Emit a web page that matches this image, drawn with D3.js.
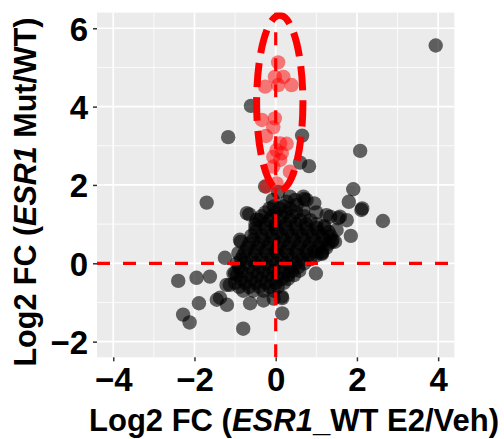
<!DOCTYPE html>
<html>
<head>
<meta charset="utf-8">
<script src="https://cdn.jsdelivr.net/npm/d3@7"></script>
<style>
  body { margin: 0; background: #fff; }
  text { font-family: "Liberation Sans", Arial, sans-serif; font-weight: bold; }
</style>
</head>
<body>
<svg></svg>
<script>
const WIDTH = 504;
const HEIGHT = 439;

const xTicks = [-4, -2, 0, 2, 4];
const yTicks = [-2, 0, 2, 4, 6];
const xMinor = [-3, -1, 1, 3];
const yMinor = [-1, 1, 3, 5];

// genes outside the main cloud
const outlierPts = [
  [3.94, 5.56], [-0.61, 4.02], [-1.17, 3.22], [0.65, 3.26], [2.08, 2.87],
  [0.60, 2.57], [0.82, 2.48], [-1.70, 1.55], [1.91, 1.89], [1.80, 1.57],
  [2.13, 1.40], [2.11, 1.36], [2.64, 1.08], [1.85, 0.70], [-2.40, -0.45],
  [-1.95, -0.37], [-1.62, -0.34], [-2.28, -1.31], [-2.12, -1.51], [-1.89, -1.02],
  [-1.45, -0.93], [-1.37, -0.88], [-1.20, -1.06], [-0.80, -1.67], [0.16, -0.89],
  [0.16, -1.28], [-1.25, 0.14]
];

// edge of the cloud
const fringePts = [
  [-0.26, 1.96], [0.06, 1.82], [0.35, 1.70], [0.68, 1.70], [0.27, 1.57],
  [0.52, 1.49], [0.70, 1.64], [0.95, 1.53], [-0.07, 1.62], [-0.65, 1.25],
  [-0.47, 1.11], [1.34, 1.19], [1.58, 1.19], [1.75, 1.10], [1.50, 0.85],
  [1.38, 0.55], [1.13, 0.26], [0.99, -0.26], [0.58, -0.19], [1.14, 0.24],
  [-0.86, 0.55], [-0.92, 0.26], [-1.13, -0.55], [-1.04, -0.26], [-0.63, -1.02],
  [-0.30, -0.95], [-0.05, -0.90], [1.25, 1.23], [1.54, 1.15], [1.46, 0.55],
  [0.48, 1.62], [0.76, 1.62], [0.68, 1.36], [-0.88, 0.60], [-1.21, -0.55],
  [0.15, -0.85], [1.00, 1.30], [1.20, 0.95], [-0.71, 1.28], [-1.00, -0.26]
];

// dense core of the cloud
const corePts = [
  [-0.8, -0.7], [-0.55, -0.7], [-0.3, -0.7], [-0.05, -0.7],
  [-1.0, -0.5], [-0.75, -0.5], [-0.5, -0.5], [-0.25, -0.5], [0.0, -0.5], [0.2, -0.5],
  [-0.95, -0.3], [-0.7, -0.3], [-0.45, -0.3], [-0.2, -0.3], [0.05, -0.3], [0.3, -0.3], [0.45, -0.3],
  [-0.9, -0.1], [-0.65, -0.1], [-0.4, -0.1], [-0.15, -0.1], [0.1, -0.1], [0.35, -0.1], [0.55, -0.1],
  [-0.85, 0.1], [-0.6, 0.1], [-0.35, 0.1], [-0.1, 0.1], [0.15, 0.1], [0.4, 0.1], [0.65, 0.1], [0.85, 0.1],
  [-0.75, 0.3], [-0.5, 0.3], [-0.25, 0.3], [0.0, 0.3], [0.25, 0.3], [0.5, 0.3], [0.75, 0.3], [0.95, 0.3], [1.15, 0.3],
  [-0.65, 0.5], [-0.4, 0.5], [-0.15, 0.5], [0.1, 0.5], [0.35, 0.5], [0.6, 0.5], [0.85, 0.5], [1.1, 0.5], [1.3, 0.5],
  [-0.6, 0.7], [-0.35, 0.7], [-0.1, 0.7], [0.15, 0.7], [0.4, 0.7], [0.65, 0.7], [0.9, 0.7], [1.15, 0.7], [1.35, 0.7],
  [-0.5, 0.9], [-0.25, 0.9], [0.0, 0.9], [0.25, 0.9], [0.5, 0.9], [0.75, 0.9], [1.0, 0.9], [1.2, 0.9],
  [-0.4, 1.1], [-0.15, 1.1], [0.1, 1.1], [0.35, 1.1], [0.6, 1.1], [0.85, 1.1],
  [-0.25, 1.3], [0.0, 1.3], [0.25, 1.3], [0.5, 1.3],
  [-0.05, 1.45], [0.2, 1.45],
  [-0.9, -0.6], [-0.65, -0.6], [-0.4, -0.6], [-0.15, -0.6], [0.05, -0.6],
  [-0.85, -0.4], [-0.6, -0.4], [-0.35, -0.4], [-0.1, -0.4], [0.15, -0.4], [0.3, -0.4],
  [-0.85, -0.2], [-0.55, -0.2], [-0.3, -0.2], [-0.05, -0.2], [0.2, -0.2], [0.4, -0.2],
  [-0.95, 0.0], [-0.75, 0.0], [-0.5, 0.0], [-0.25, 0.0], [0.0, 0.0], [0.25, 0.0], [0.5, 0.0], [0.7, 0.0],
  [-0.8, 0.2], [-0.5, 0.2], [-0.2, 0.2], [0.05, 0.2], [0.3, 0.2], [0.55, 0.2], [0.8, 0.2], [1.0, 0.2],
  [-0.7, 0.4], [-0.45, 0.4], [-0.2, 0.4], [0.05, 0.4], [0.3, 0.4], [0.55, 0.4], [0.8, 0.4], [1.05, 0.4], [1.25, 0.4],
  [-0.55, 0.6], [-0.3, 0.6], [-0.05, 0.6], [0.2, 0.6], [0.45, 0.6], [0.7, 0.6], [0.95, 0.6], [1.2, 0.6], [1.4, 0.6],
  [-0.5, 0.8], [-0.2, 0.8], [0.05, 0.8], [0.3, 0.8], [0.55, 0.8], [0.8, 0.8], [1.05, 0.8], [1.3, 0.8],
  [-0.5, 1.0], [-0.25, 1.0], [0.0, 1.0], [0.25, 1.0], [0.5, 1.0], [0.75, 1.0], [1.0, 1.0],
  [-0.35, 1.2], [-0.1, 1.2], [0.15, 1.2], [0.4, 1.2], [0.7, 1.2],
  [-0.15, 1.4], [0.1, 1.4], [0.35, 1.4]
];

// highlighted genes inside the ellipse
const redPts = [
  [0.06, 5.13], [-0.02, 4.76], [0.19, 4.76], [-0.26, 4.51], [0.06, 4.55],
  [0.39, 4.55], [-0.02, 3.70], [-0.34, 3.66], [-0.06, 3.47], [-0.24, 3.25],
  [0.11, 3.06], [0.27, 3.05], [0.02, 2.89], [0.15, 2.81], [-0.06, 2.72],
  [0.11, 2.64], [-0.06, 2.47], [0.35, 2.34], [-0.22, 1.96], [0.02, 2.04]
];

const ellipseCenter = [0.1, 4.1];
const ellipseRadii = [0.57, 2.23];

const panel = {left: 97, right: 454.4, top: 12.6, bottom: 357.3};

const svg = d3.select('svg')
    .attr('width', WIDTH)
    .attr('height', HEIGHT);

const x = d3.scaleLinear().domain([-4.4, 4.4]).range([panel.left, panel.right]);
const y = d3.scaleLinear().domain([-2.4, 6.4]).range([panel.bottom, panel.top]);

svg.append('defs').append('clipPath').attr('id', 'clip')
  .append('rect')
    .attr('x', panel.left).attr('y', panel.top)
    .attr('width', panel.right - panel.left)
    .attr('height', panel.bottom - panel.top);

svg.append('rect')
    .attr('x', panel.left).attr('y', panel.top)
    .attr('width', panel.right - panel.left)
    .attr('height', panel.bottom - panel.top)
    .attr('fill', '#ebebeb');

// grid
const grid = svg.append('g').attr('stroke', '#fff');
grid.selectAll('.vmin').data(xMinor).enter().append('line')
    .attr('x1', x).attr('x2', x).attr('y1', panel.top).attr('y2', panel.bottom)
    .attr('stroke-width', 0.8);
grid.selectAll('.hmin').data(yMinor).enter().append('line')
    .attr('y1', y).attr('y2', y).attr('x1', panel.left).attr('x2', panel.right)
    .attr('stroke-width', 0.8);
grid.selectAll('.vmaj').data(xTicks).enter().append('line')
    .attr('x1', x).attr('x2', x).attr('y1', panel.top).attr('y2', panel.bottom)
    .attr('stroke-width', 1.7);
grid.selectAll('.hmaj').data(yTicks).enter().append('line')
    .attr('y1', y).attr('y2', y).attr('x1', panel.left).attr('x2', panel.right)
    .attr('stroke-width', 1.7);

const plot = svg.append('g').attr('clip-path', 'url(#clip)');

plot.append('g').selectAll('circle')
    .data(outlierPts.concat(fringePts, corePts))
  .enter().append('circle')
    .attr('cx', (d) => x(d[0]))
    .attr('cy', (d) => y(d[1]))
    .attr('r', 7.2)
    .attr('fill', '#000')
    .attr('fill-opacity', 0.6);

plot.append('g').selectAll('circle')
    .data(redPts)
  .enter().append('circle')
    .attr('cx', (d) => x(d[0]))
    .attr('cy', (d) => y(d[1]))
    .attr('r', 7.2)
    .attr('fill', '#ff0000')
    .attr('fill-opacity', 0.5);

// reference lines
plot.append('line')
    .attr('x1', panel.left).attr('x2', panel.right)
    .attr('y1', y(0)).attr('y2', y(0))
    .attr('stroke', '#ff0000').attr('stroke-width', 3.2)
    .attr('stroke-dasharray', '13,13');
plot.append('line')
    .attr('x1', x(0)).attr('x2', x(0))
    .attr('y1', panel.bottom).attr('y2', panel.top)
    .attr('stroke', '#ff0000').attr('stroke-width', 3.2)
    .attr('stroke-dasharray', '13,13');

plot.append('ellipse')
    .attr('cx', x(ellipseCenter[0]))
    .attr('cy', y(ellipseCenter[1]))
    .attr('rx', x(ellipseCenter[0] + ellipseRadii[0]) - x(ellipseCenter[0]))
    .attr('ry', y(ellipseCenter[1]) - y(ellipseCenter[1] + ellipseRadii[1]))
    .attr('fill', 'none')
    .attr('stroke', '#ff0000')
    .attr('stroke-width', 7)
    .attr('stroke-dasharray', '24,10');

// axes
const xAxis = svg.append('g')
    .attr('transform', `translate(0,${panel.bottom})`)
    .call(d3.axisBottom(x).tickValues(xTicks).tickSize(4).tickPadding(6));
const yAxis = svg.append('g')
    .attr('transform', `translate(${panel.left},0)`)
    .call(d3.axisLeft(y).tickValues(yTicks).tickSize(4).tickPadding(5));
[xAxis, yAxis].forEach((a) => {
  a.select('.domain').remove();
  a.selectAll('.tick line').attr('stroke', '#333').attr('stroke-width', 1.5);
  a.selectAll('.tick text')
      .attr('fill', '#000')
      .style('font-family', '"Liberation Sans", Arial, sans-serif')
      .style('font-weight', 'bold')
      .style('font-size', '33px')
      .text((d) => d < 0 ? '\u2212' + Math.abs(d) : d);
});
yAxis.selectAll('.tick text').attr('dy', '0.36em');
xAxis.selectAll('.tick text').attr('dy', '0.72em');

// axis titles
const xTitle = svg.append('text')
    .attr('x', 294)
    .attr('y', 431)
    .attr('text-anchor', 'middle')
    .style('font-size', '31px');
xTitle.append('tspan').text('Log2 FC (');
xTitle.append('tspan').style('font-style', 'italic').text('ESR1');
xTitle.append('tspan').text('_WT E2/Veh)');

const yTitle = svg.append('text')
    .attr('transform', 'translate(36,192) rotate(-90)')
    .attr('text-anchor', 'middle')
    .style('font-size', '30.5px');
yTitle.append('tspan').text('Log2 FC (');
yTitle.append('tspan').style('font-style', 'italic').text('ESR1');
yTitle.append('tspan').text(' Mut/WT)');
</script>
</body>
</html>
